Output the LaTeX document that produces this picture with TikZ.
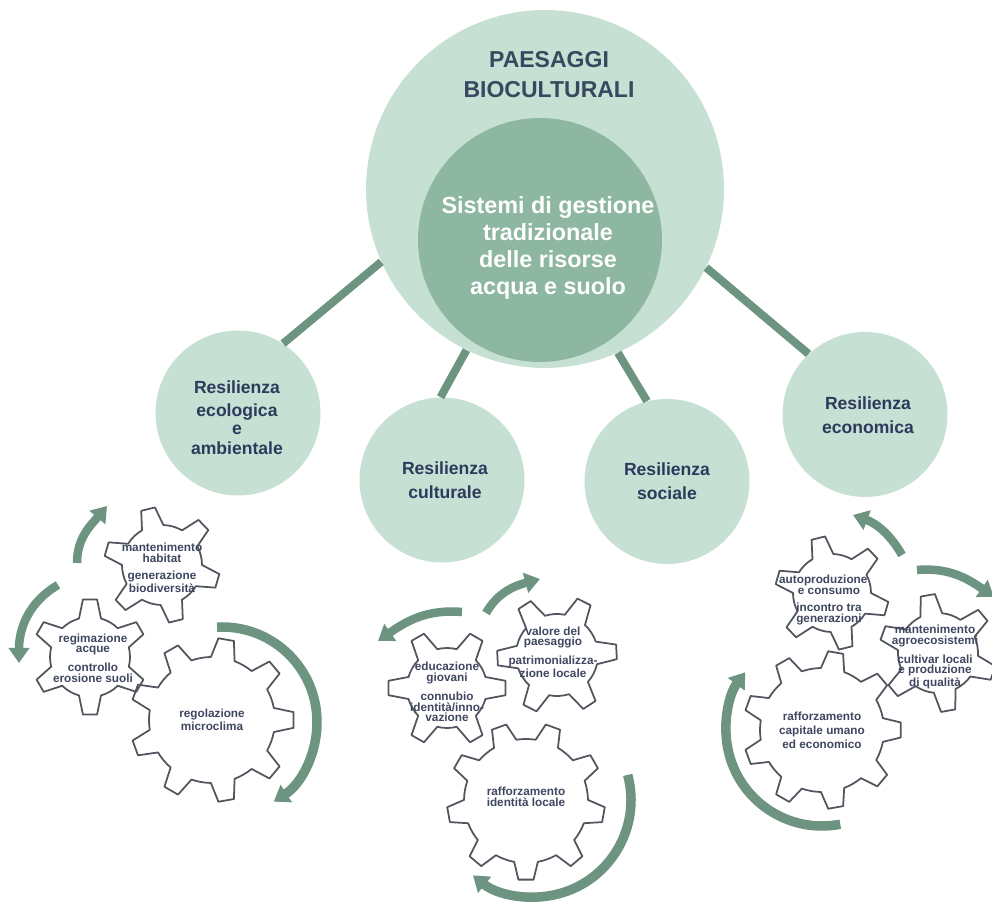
\documentclass[tikz,border=0pt]{standalone}
\usepackage{fontspec}
\setmainfont{Liberation Sans}
\usetikzlibrary{arrows.meta}
\definecolor{diskLight}{HTML}{C6E0D3}
\definecolor{diskDark}{HTML}{8DB7A1}
\definecolor{linkGreen}{HTML}{6C9480}
\definecolor{inkBlue}{HTML}{2C3A5C}
\definecolor{inkSlate}{HTML}{38495F}
\definecolor{gearInk}{HTML}{3F4660}
\definecolor{gearEdge}{HTML}{50555E}
\tikzset{%
  % Specifications for style of nodes:
       base/.style = {circle, draw=none, fill=diskLight, inner sep=0pt},
   outerDisk/.style = {base, minimum size=7.16cm},
   innerDisk/.style = {base, minimum size=4.88cm, fill=diskDark},
    resDisk/.style = {base, minimum size=3.3cm},
   titleTxt/.style = {align=center, text=inkSlate, font=\fontsize{13.1}{17}\selectfont\bfseries},
   innerTxt/.style = {align=center, text=white, font=\fontsize{13.3}{15.3}\selectfont\bfseries},
     resTxt/.style = {align=center, text=inkBlue, font=\fontsize{10}{13.5}\selectfont\bfseries},
    gearTxt/.style = {align=center, text=gearInk, inner sep=0pt, font=\fontsize{6.7}{6.1}\selectfont\bfseries},
       link/.style = {draw=linkGreen, line width=.16cm},
   gearline/.style = {draw=gearEdge, line width=1pt, line join=round},
       flow/.style = {draw=linkGreen, line width=.17cm, -{Triangle[width=.4cm,length=.3cm]}},
    bigFlow/.style = {flow, line width=.19cm},
}
% center, teeth, rotation, outer radius, root radius, tip half angle, base half angle
\newcommand{\gearwheel}[7]{%
  \pgfmathsetmacro{\gstep}{360/#2}
  \begin{scope}[shift={(#1)},rotate=#3]
    \draw[gearline] ({\gstep-#7}:#5)
      \foreach \k in {1,...,#2}{
        -- ({\k*\gstep-#6}:#4) -- ({\k*\gstep+#6}:#4) -- ({\k*\gstep+#7}:#5)
        arc[start angle={\k*\gstep+#7}, end angle={(\k+1)*\gstep-#7}, radius=#5]
      } -- cycle;
  \end{scope}}

\begin{document}
\begin{tikzpicture}[x=.02cm, y=.02cm]
\useasboundingbox (0,0) rectangle (992,903);

\node (outer) [outerDisk] at (545,714) {};
\node (inner) [innerDisk] at (540,663) {};

\node (eco) [resDisk] at (238,490) {};
\node (cul) [resDisk] at (442,423) {};
\node (soc) [resDisk] at (667,421.5) {};
\node (ecn) [resDisk] at (865,488.5) {};

\draw[link] (outer.204.5) -- (eco.57);
\draw[link] (outer.244) -- (cul.91);
\draw[link] (outer.294) -- (soc.104);
\draw[link] (outer.-26.3) -- (ecn.133);

\node (title)    [titleTxt] at (549,828) {PAESAGGI\\BIOCULTURALI};
\node (innerLab) [innerTxt] at (548,655) {Sistemi di gestione\\tradizionale\\delle risorse\\acqua e suolo};
\node (ecoLab)   [resTxt, font=\fontsize{10}{10}\selectfont\bfseries] at (237,485.5) {Resilienza\\[3.6pt]ecologica\\e\\[1.4pt]ambientale};
\node (culLab)   [resTxt]   at (445,422.5) {Resilienza\\culturale};
\node (socLab)   [resTxt]   at (667,421.5) {Resilienza\\sociale};
\node (ecnLab)   [resTxt]   at (868,488) {Resilienza\\economica};

% gears on the left
\coordinate (gA) at (162,338);
\coordinate (gB) at (90,246);
\coordinate (gC) at (212,183);
\gearwheel{gA}{6}{44}{58}{40}{7}{16}
\gearwheel{gB}{6}{30}{58}{40}{7}{16}
\gearwheel{gC}{9}{0}{82}{63}{5.5}{11}
\node (gAtxt) [gearTxt] at (162,335) {mantenimento\\habitat\\[3.5pt]generazione\\biodiversità};
\node (gBtxt) [gearTxt] at (93,245) {regimazione\\acque\hspace*{8pt}\\[3.5pt]controllo\\erosione suoli};
\node (gCtxt) [gearTxt] at (212,183) {regolazione\\microclima};

% gears in the middle
\coordinate (gD) at (447,215);
\coordinate (gE) at (557,248);
\coordinate (gF) at (526,102);
\gearwheel{gD}{6}{0}{59}{40}{7}{16}
\gearwheel{gE}{6}{3}{60}{41}{7}{16}
\gearwheel{gF}{9}{-10}{79}{62}{5.5}{11}
\node (gDtxt) [gearTxt] at (447,211) {educazione\\giovani\\[3.5pt]connubio\\identità/inno-\\vazione};
\node (gEtxt) [gearTxt] at (553,251) {valore del\\paesaggio\\[3.5pt]patrimonializza-\\zione locale};
\node (gFtxt) [gearTxt] at (526,106) {rafforzamento\\identità locale};

% gears on the right
\coordinate (gG) at (832,310);
\coordinate (gH) at (938,250);
\coordinate (gI) at (822,173);
\gearwheel{gG}{6}{44}{57}{39}{7}{16}
\gearwheel{gH}{6}{40}{59}{40}{7}{16}
\gearwheel{gI}{9}{0}{79}{62}{5.5}{11}
\node (gGtxt) [gearTxt] at (829,303) {\hspace*{-6.5pt}autoproduzione\\e consumo\\[3.5pt]incontro tra\\generazioni};
\node (gHtxt) [gearTxt] at (935,246) {mantenimento\\agroecosistemi\\[3.5pt]cultivar locali\\e produzione\\di qualità};
\node (gItxt) [gearTxt, font=\fontsize{6.7}{8}\selectfont\bfseries] at (822,173) {rafforzamento\\capitale umano\\ed economico};

% curved arrows
\coordinate (fA0) at (77,340);
\coordinate (fA1) at (107,397);
\coordinate (fB0) at (58,318);
\coordinate (fB1) at (19,240);
\coordinate (fC0) at (486,290);
\coordinate (fC1) at (540,324);
\coordinate (fD0) at (462,291);
\coordinate (fD1) at (378,262);
\coordinate (fE0) at (902,348);
\coordinate (fE1) at (853,388);
\coordinate (fF0) at (917,333);
\coordinate (fF1) at (994,306);

\draw[flow] (fA0) to[out=90, in=-130] (fA1);
\draw[flow] (fB0) to[out=210, in=90] (fB1);
\draw[flow] (fC0) to[out=60, in=195] (fC1);
\draw[flow] (fD0) to[out=175, in=35] (fD1);
\draw[flow] (fE0) to[out=120, in=-20] (fE1);
\draw[flow] (fF0) to[out=5, in=145] (fF1);

\draw[bigFlow] ([shift={(93:95)}]222,181) arc[start angle=93, end angle=-57, radius=95];
\draw[bigFlow] ([shift={(15:97)}]534,103) arc[start angle=15, end angle=-129, radius=97];
\draw[bigFlow] ([shift={(-79:96)}]822,173) arc[start angle=-79, end angle=-217, radius=96];
\end{tikzpicture}
\end{document}
